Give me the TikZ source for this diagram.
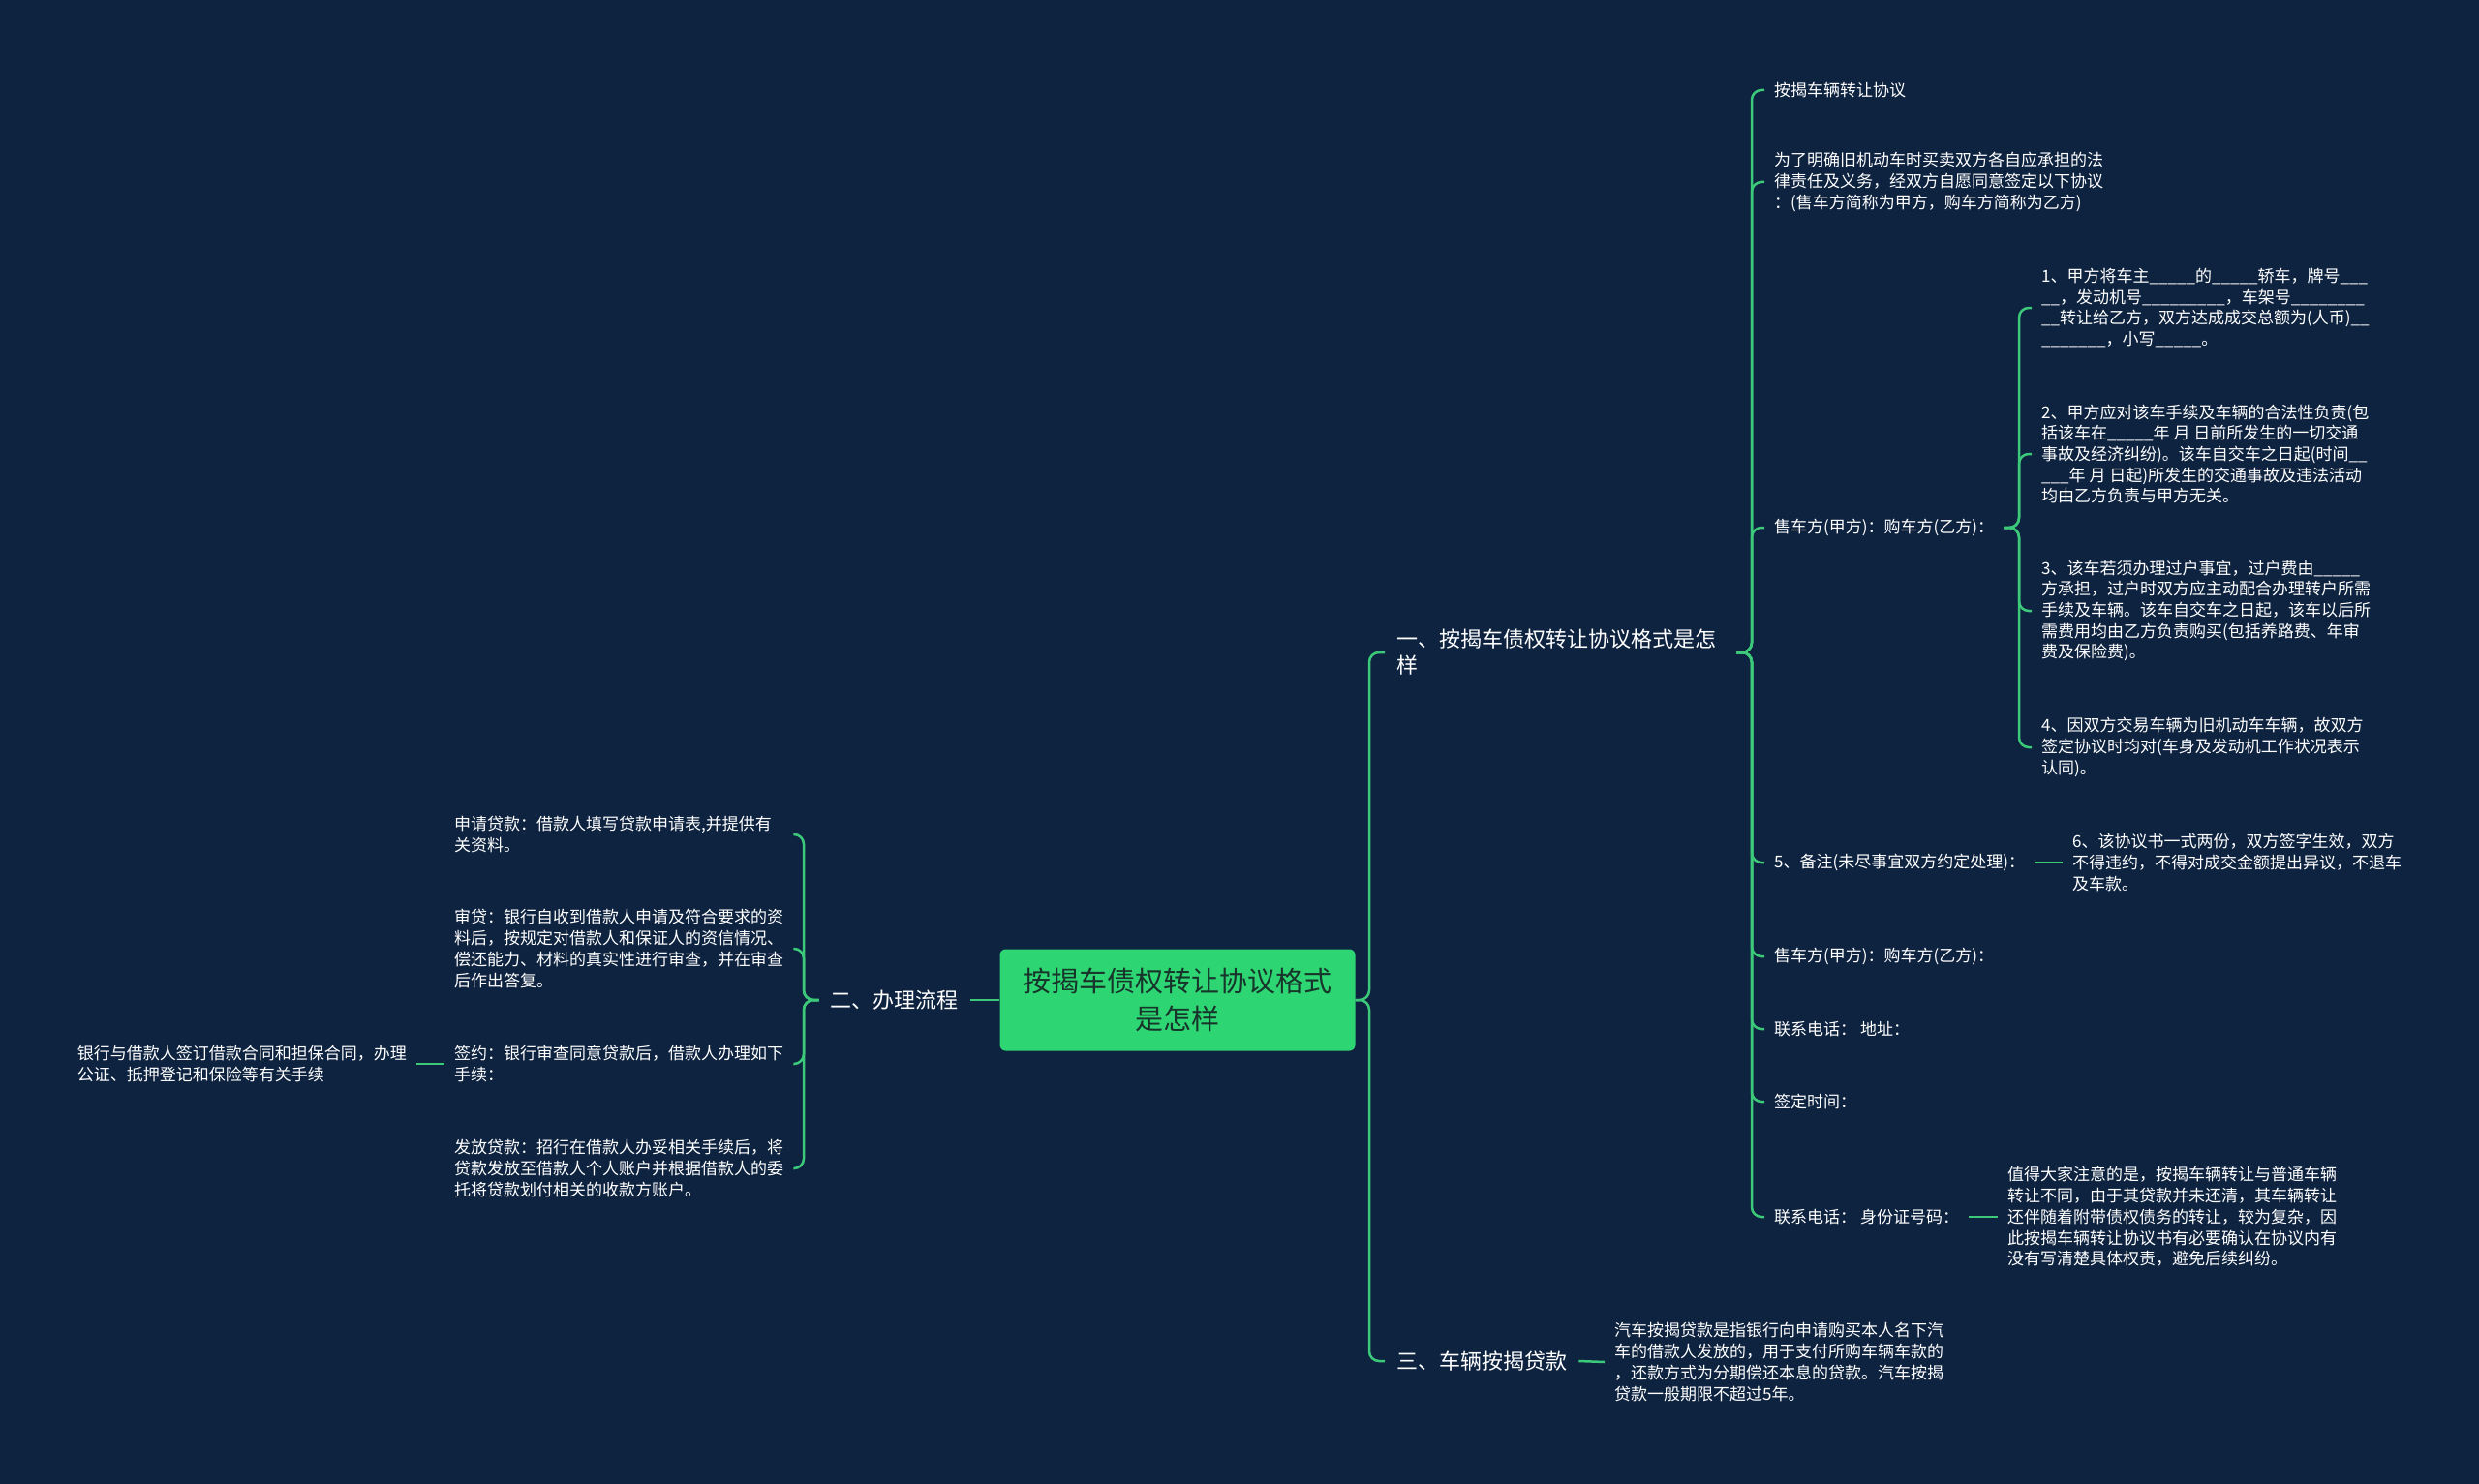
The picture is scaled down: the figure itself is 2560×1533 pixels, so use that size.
\documentclass[tikz,border=0pt]{standalone}
\usepackage{fontspec}
\setmainfont{Noto Sans CJK SC}
\definecolor{bgnavy}{HTML}{0E2340}
\definecolor{linkgreen}{HTML}{3CC97A}
\definecolor{rootgreen}{HTML}{2ED573}
\definecolor{roottext}{HTML}{17352A}

\begin{document}
\begin{tikzpicture}[
    x=1pt, y=-1pt,
    root/.style={fill=rootgreen,rounded corners=6pt,text=roottext,align=center,minimum width=367pt,minimum height=105pt,font=\fontsize{29pt}{39pt}\selectfont},
    topic/.style={text=white,align=left,anchor=west,inner xsep=12pt,font=\fontsize{22pt}{27pt}\selectfont},
    leaf/.style={text=white,align=left,anchor=west,inner xsep=10pt,inner ysep=2pt,font=\fontsize{17pt}{21.7pt}\selectfont},
    link/.style={draw=linkgreen,line width=2.5pt,rounded corners=10pt}
  ]
  \fill[bgnavy] (0,0) rectangle (2560,1533);
  \useasboundingbox (0,0) rectangle (2560,1533);

  \node[root] (root) at (1216,1033) {按揭车债权转让协议格式\\是怎样};

  \node[topic,text width=339pt] (t1) at (1430,674) {一、按揭车债权转让协议格式是怎\\样};
  \node[topic,anchor=east] (t2) at (1002,1033) {二、办理流程};
  \node[topic] (t3) at (1430,1406) {三、车辆按揭贷款};

  \node[leaf] (c1) at (1822,93) {按揭车辆转让协议};
  \node[leaf] (c2) at (1822,188) {为了明确旧机动车时买卖双方各自应承担的法\\律责任及义务，经双方自愿同意签定以下协议\\：(售车方简称为甲方，购车方简称为乙方)};
  \node[leaf] (c3) at (1822,545) {售车方(甲方)：购车方(乙方)：};
  \node[leaf] (c4) at (1822,891) {5、备注(未尽事宜双方约定处理)：};
  \node[leaf] (c5) at (1822,988) {售车方(甲方)：购车方(乙方)：};
  \node[leaf] (c6) at (1822,1063) {联系电话： 地址：};
  \node[leaf] (c7) at (1822,1138) {签定时间：};
  \node[leaf] (c8) at (1822,1257) {联系电话： 身份证号码：};

  \node[leaf] (d1) at (2098,318) {1、甲方将车主\_\_\_\_\_的\_\_\_\_\_轿车，牌号\_\_\_\\\_\_，发动机号\_\_\_\_\_\_\_\_\_，车架号\_\_\_\_\_\_\_\_\\\_\_转让给乙方，双方达成成交总额为(人币)\_\_\\\_\_\_\_\_\_\_，小写\_\_\_\_\_。};
  \node[leaf] (d2) at (2098,469) {2、甲方应对该车手续及车辆的合法性负责(包\\括该车在\_\_\_\_\_年 月 日前所发生的一切交通\\事故及经济纠纷)。该车自交车之日起(时间\_\_\\\_\_\_年 月 日起)所发生的交通事故及违法活动\\均由乙方负责与甲方无关。};
  \node[leaf] (d3) at (2098,631) {3、该车若须办理过户事宜，过户费由\_\_\_\_\_\\方承担，过户时双方应主动配合办理转户所需\\手续及车辆。该车自交车之日起，该车以后所\\需费用均由乙方负责购买(包括养路费、年审\\费及保险费)。};
  \node[leaf] (d4) at (2098,772) {4、因双方交易车辆为旧机动车车辆，故双方\\签定协议时均对(车身及发动机工作状况表示\\认同)。};

  \node[leaf] (e1) at (2130,891) {6、该协议书一式两份，双方签字生效，双方\\不得违约，不得对成交金额提出异议，不退车\\及车款。};
  \node[leaf] (e2) at (2063,1257) {值得大家注意的是，按揭车辆转让与普通车辆\\转让不同，由于其贷款并未还清，其车辆转让\\还伴随着附带债权债务的转让，较为复杂，因\\此按揭车辆转让协议书有必要确认在协议内有\\没有写清楚具体权责，避免后续纠纷。};
  \node[leaf] (f1) at (1657,1407) {汽车按揭贷款是指银行向申请购买本人名下汽\\车的借款人发放的，用于支付所购车辆车款的\\，还款方式为分期偿还本息的贷款。汽车按揭\\贷款一般期限不超过5年。};

  \node[leaf,text width=340pt] (g1) at (459,862) {申请贷款：借款人填写贷款申请表,并提供有\\关资料。};
  \node[leaf,text width=340pt] (g2) at (459,980) {审贷：银行自收到借款人申请及符合要求的资\\料后，按规定对借款人和保证人的资信情况、\\偿还能力、材料的真实性进行审查，并在审查\\后作出答复。};
  \node[leaf,text width=340pt] (g3) at (459,1099) {签约：银行审查同意贷款后，借款人办理如下\\手续：};
  \node[leaf,text width=340pt] (g4) at (459,1207) {发放贷款：招行在借款人办妥相关手续后，将\\贷款发放至借款人个人账户并根据借款人的委\\托将贷款划付相关的收款方账户。};
  \node[leaf,anchor=east] (h1) at (430,1099) {银行与借款人签订借款合同和担保合同，办理\\公证、抵押登记和保险等有关手续};

  \coordinate (tA) at (1414,0);
  \coordinate (tB) at (1809,0);
  \coordinate (tC) at (2085,0);
  \coordinate (tE) at (830,0);

  \foreach \t in {t1,t3}
    \draw[link] (root.east) -- (root.east -| tA) |- (\t.west);
  \draw[link] (root.west) -- (t2.east);
  \foreach \c in {c1,c2,c3,c4,c5,c6,c7,c8}
    \draw[link] (t1.east) -- (t1.east -| tB) |- (\c.west);
  \foreach \d in {d1,d2,d3,d4}
    \draw[link] (c3.east) -- (c3.east -| tC) |- (\d.west);
  \foreach \g in {g1,g2,g3,g4}
    \draw[link] (t2.west) -- (t2.west -| tE) |- (\g.east);
  \draw[link] (c4.east) -- (e1.west);
  \draw[link] (c8.east) -- (e2.west);
  \draw[link] (t3.east) -- (f1.west);
  \draw[link] (g3.west) -- (h1.east);
\end{tikzpicture}
\end{document}
